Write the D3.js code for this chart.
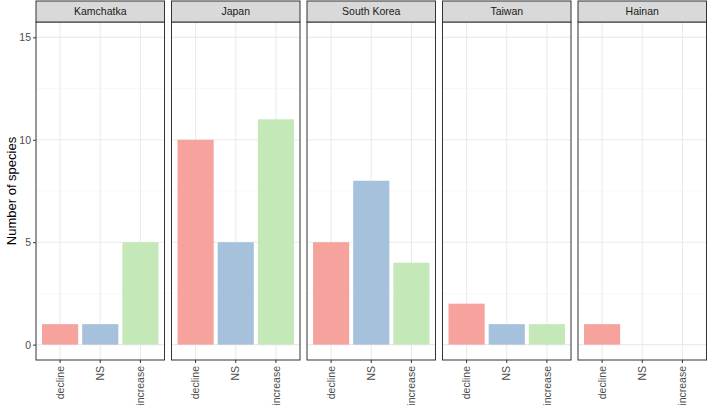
<!DOCTYPE html>
<html lang="en">
<head>
<meta charset="UTF-8">
<script src="https://d3js.org/d3.v7.min.js"></script>
<style>
  body { margin: 0; background: #ffffff; }
  text { font-family: "Liberation Sans", Arial, sans-serif; }
</style>
</head>
<body>
<div id="chart"></div>
<script>
// data
var regions = ["Kamchatka", "Japan", "South Korea", "Taiwan", "Hainan"];
var trends = ["decline", "NS", "increase"];
var declineCounts = [1, 10, 5, 2, 1];
var nsCounts = [1, 5, 8, 1, 0];
var increaseCounts = [5, 11, 4, 1, 0];
var yTicks = [0, 5, 10, 15];
var yMinor = [2.5, 7.5, 12.5];

var colors = {decline: "#f6a39e", NS: "#a6c1dc", increase: "#c5e8b9"};

var W = 708, H = 409;
var left = 36, panelW = 128.5, gap = 7, stripTop = 1, stripH = 21;
var panelTop = stripTop + stripH, panelBottom = 360;

var svg = d3.select("#chart").append("svg")
    .attr("width", W).attr("height", H);

var y = d3.scaleLinear()
    .domain([-0.75, 15.75])
    .range([panelBottom, panelTop]);

// discrete x like ggplot: 0.6 expansion each side, bars 0.9 wide
var x = d3.scalePoint()
    .domain(trends)
    .range([panelW * 0.6 / 3.2, panelW * 2.6 / 3.2]);
var unit = panelW / 3.2;

regions.forEach(function(r, i) {
    var vals = {decline: declineCounts[i], NS: nsCounts[i], increase: increaseCounts[i]};
    var g = svg.append("g")
        .attr("transform", "translate(" + (left + i * (panelW + gap)) + ",0)");

    // grid
    yMinor.forEach(function(v) {
        g.append("line").attr("x1", 0).attr("x2", panelW)
            .attr("y1", y(v)).attr("y2", y(v))
            .attr("stroke", "#f2f2f2").attr("stroke-width", 0.6);
    });
    yTicks.forEach(function(v) {
        g.append("line").attr("x1", 0).attr("x2", panelW)
            .attr("y1", y(v)).attr("y2", y(v))
            .attr("stroke", "#ebebeb").attr("stroke-width", 1.1);
    });
    trends.forEach(function(t) {
        g.append("line").attr("x1", x(t)).attr("x2", x(t))
            .attr("y1", panelTop).attr("y2", panelBottom)
            .attr("stroke", "#ebebeb").attr("stroke-width", 1.1);
    });

    // bars
    trends.forEach(function(t) {
        g.append("rect")
            .attr("x", x(t) - unit * 0.45)
            .attr("width", unit * 0.9)
            .attr("y", y(vals[t]))
            .attr("height", y(0) - y(vals[t]))
            .attr("fill", colors[t]);
    });

    // panel border
    g.append("rect").attr("x", 0).attr("y", panelTop)
        .attr("width", panelW).attr("height", panelBottom - panelTop)
        .attr("fill", "none").attr("stroke", "#333333").attr("stroke-width", 1);

    // strip
    g.append("rect").attr("x", 0).attr("y", stripTop)
        .attr("width", panelW).attr("height", stripH)
        .attr("fill", "#d9d9d9").attr("stroke", "#333333").attr("stroke-width", 1);
    g.append("text")
        .attr("x", panelW / 2).attr("y", stripTop + stripH / 2)
        .attr("dy", "0.35em")
        .attr("text-anchor", "middle")
        .attr("font-size", 10.5)
        .attr("fill", "#1a1a1a")
        .text(r);

    // x axis ticks and labels
    trends.forEach(function(t) {
        g.append("line").attr("x1", x(t)).attr("x2", x(t))
            .attr("y1", panelBottom).attr("y2", panelBottom + 3)
            .attr("stroke", "#333333");
        g.append("text")
            .attr("transform", "translate(" + x(t) + "," + (panelBottom + 6) + ")rotate(-90)")
            .attr("text-anchor", "end")
            .attr("dy", "0.35em")
            .attr("font-size", 10.5)
            .attr("fill", "#4d4d4d")
            .text(t);
    });
});

// y axis
var yAxis = svg.append("g")
    .attr("transform", "translate(" + left + ",0)")
    .call(d3.axisLeft(y).tickValues(yTicks).tickSize(3).tickPadding(2));
yAxis.select(".domain").remove();
yAxis.selectAll(".tick line").attr("stroke", "#333333");
yAxis.selectAll(".tick text")
    .attr("font-size", 10.5)
    .attr("fill", "#4d4d4d")
    .style("font-family", "Liberation Sans, Arial, sans-serif");

svg.append("text")
    .attr("transform", "translate(11," + ((panelTop + panelBottom) / 2) + ")rotate(-90)")
    .attr("text-anchor", "middle")
    .attr("dy", "0.35em")
    .attr("font-size", 13)
    .attr("fill", "#000")
    .text("Number of species");
</script>
</body>
</html>
